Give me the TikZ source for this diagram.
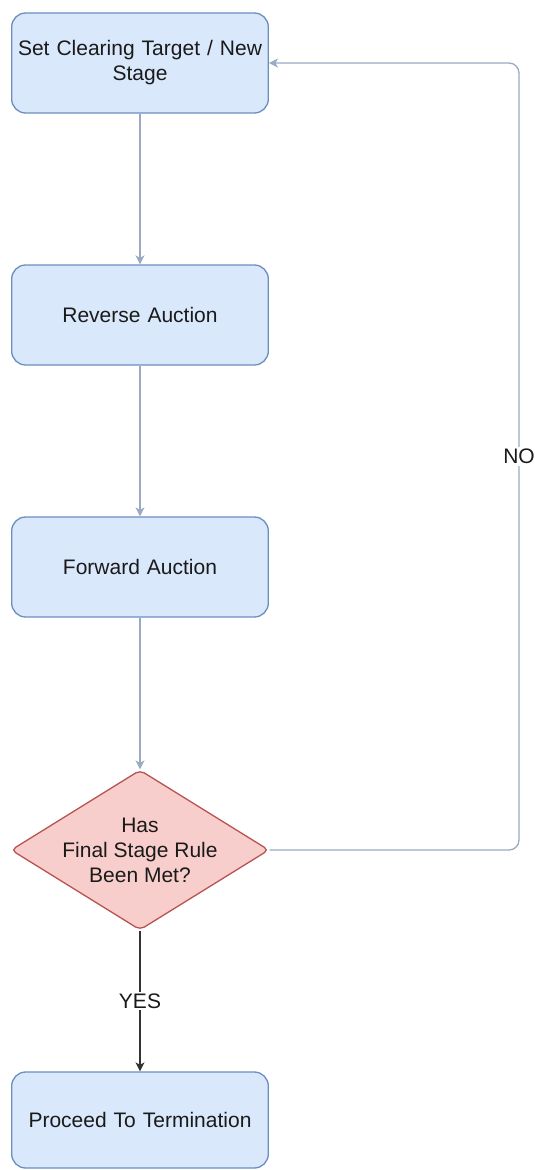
\documentclass[tikz,border=0pt]{standalone}
\usepackage{fontspec}
\setmainfont{Liberation Sans}
\usetikzlibrary{shapes.geometric,arrows.meta}

\definecolor{boxfill}{HTML}{DAE8FC}
\definecolor{boxline}{HTML}{6C8EBF}
\definecolor{decfill}{HTML}{F8CECC}
\definecolor{decline}{HTML}{B85450}
\definecolor{flowline}{HTML}{9AAAC2}
\definecolor{txt}{HTML}{1A1A1A}

\tikzstyle{stagebox}=[draw=boxline,fill=boxfill,line width=1.3pt,rounded corners=14pt,minimum width=254pt,minimum height=100pt,text width=250pt,align=center,text=txt]
\tikzstyle{decision}=[draw=decline,fill=decfill,line width=1.3pt,diamond,rounded corners=5pt,minimum width=258pt,minimum height=160pt,inner sep=0pt]
\tikzstyle{flow}=[-{Stealth[length=9pt,width=9pt,inset=2.5pt]},draw=flowline,line width=1.3pt]
\tikzstyle{finalflow}=[-{Stealth[length=9pt,width=9pt,inset=2.5pt]},draw=black!80,line width=1.3pt]
\tikzstyle{edgelabel}=[fill=white,text=txt,inner sep=2pt]

\begin{document}
\begin{tikzpicture}[x=1pt,y=-1pt,font=\fontsize{21}{25}\selectfont]
\useasboundingbox (0,0) rectangle (535,1170);

\node[stagebox] (target) at (140,63) {Set Clearing Target / New\\Stage};
\node[stagebox] (reverse) at (140,315) {Reverse Auction};
\node[stagebox] (forward) at (140,567) {Forward Auction};
\node[decision] (rule) at (140,850) {};
\node[align=center,text=txt] (ruletext) at (rule.center) {Has\\Final Stage Rule\\Been Met?};
\node[stagebox,minimum height=96pt] (terminate) at (140,1120) {Proceed To Termination};

\coordinate (loop) at (519,850);

\draw[flow] (target) -- (reverse);
\draw[flow] (reverse) -- (forward);
\draw[flow] (forward) -- (rule);
\draw[flow,rounded corners=10pt] (rule.east) -- (loop) |- node[edgelabel,pos=0.25] {NO} (target.east);
\draw[finalflow] (rule.south) -- node[edgelabel] {YES} (terminate);

\end{tikzpicture}
\end{document}
